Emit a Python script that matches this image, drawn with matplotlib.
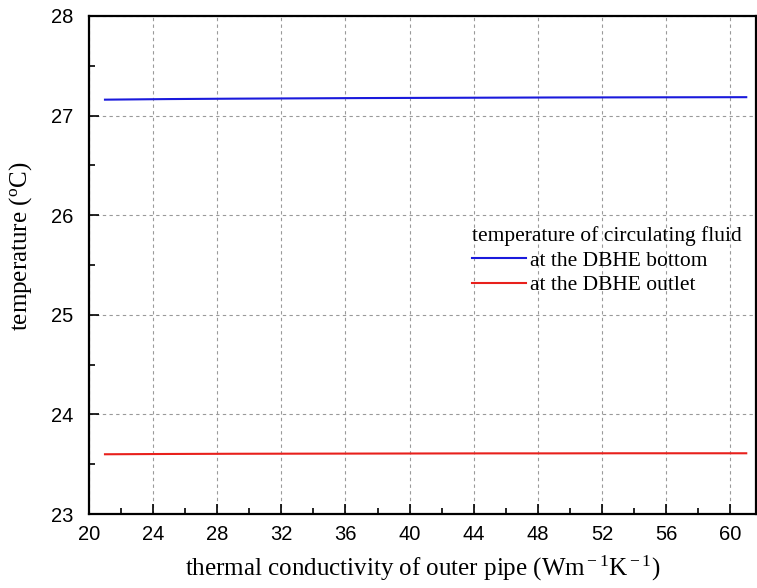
import matplotlib

matplotlib.use("Agg")
import matplotlib.pyplot as plt
from matplotlib.ticker import MultipleLocator

# thermal conductivity of outer pipe (W m-1 K-1)
conductivity = [21, 25, 29, 33, 37, 41, 45, 49, 53, 57, 61]
# temperature of circulating fluid (degC)
temp_bottom = [27.160, 27.166, 27.170, 27.173, 27.176, 27.178,
               27.180, 27.182, 27.183, 27.184, 27.185]
temp_outlet = [23.600, 23.603, 23.605, 23.606, 23.607, 23.608,
               23.609, 23.609, 23.610, 23.610, 23.610]

plt.rcParams["mathtext.fontset"] = "custom"
plt.rcParams["mathtext.rm"] = "Liberation Serif"
plt.rcParams["mathtext.it"] = "Liberation Serif:italic"

serif = ["Liberation Serif", "DejaVu Serif"]
sans = ["Liberation Sans", "DejaVu Sans"]

fig = plt.figure(figsize=(7.57, 5.88), dpi=100)
# axes box: left spine ~x=89, bottom ~y=514, top ~y=16 (pixels)
ax = fig.add_axes([0.1175, 0.1258, 0.881, 0.847])

ax.plot(conductivity, temp_bottom, color="#1a1adc", lw=1.5,
        label="at the DBHE bottom")
ax.plot(conductivity, temp_outlet, color="#e8201c", lw=1.5,
        label="at the DBHE outlet")

ax.set_xlim(20, 61.6)
ax.set_ylim(23, 28)
ax.xaxis.set_major_locator(MultipleLocator(4))
ax.xaxis.set_minor_locator(MultipleLocator(2))
ax.yaxis.set_major_locator(MultipleLocator(1))
ax.yaxis.set_minor_locator(MultipleLocator(0.5))

ax.grid(True, which="major", ls=(0, (3, 3)), color="#9a9a9a", lw=0.8)
ax.tick_params(which="major", direction="in", length=7.5, width=1.2,
               labelsize=14.5)
ax.tick_params(which="minor", direction="in", length=4, width=1.2)
ax.tick_params(axis="x", which="major", pad=8)
ax.tick_params(axis="y", which="major", pad=11)
for lab in ax.get_xticklabels() + ax.get_yticklabels():
    lab.set_family(sans)
for sp in ax.spines.values():
    sp.set_linewidth(1.6)

ax.set_xlabel("thermal conductivity of outer pipe (Wm$^{\\rm -1}$K$^{\\rm -1}$)",
              family=serif, fontsize=18, labelpad=7)
ax.set_ylabel("temperature ($^{\\rm o}$C)", family=serif, fontsize=18)
ax.yaxis.set_label_coords(-0.082, 0.538)

leg = ax.legend(loc="upper left", bbox_to_anchor=(0.624, 0.615),
                bbox_transform=fig.transFigure, frameon=False,
                title="temperature of circulating fluid",
                prop={"family": serif, "size": 15.5},
                handlelength=2.5, handletextpad=0.2, borderpad=0,
                borderaxespad=0, labelspacing=0.2, alignment="left")
leg.get_title().set_family(serif)
leg.get_title().set_fontsize(15.5)

fig.savefig("out.png", dpi=100)
